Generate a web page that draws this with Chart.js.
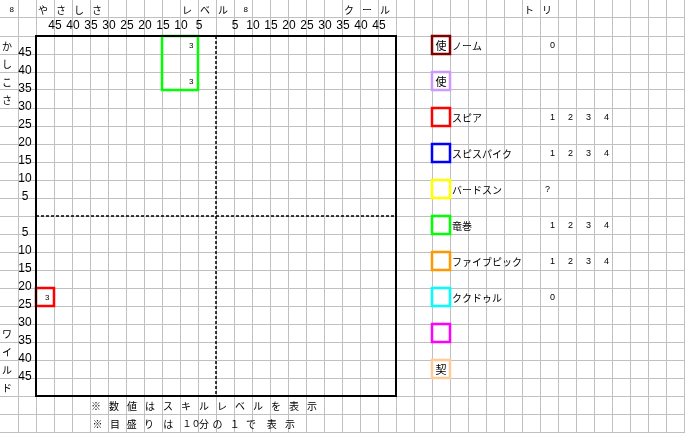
<!DOCTYPE html>
<html><head><meta charset="utf-8">
<script src="https://cdn.jsdelivr.net/npm/chart.js@4"></script>
<style>html,body{margin:0;padding:0;background:#fff}#wrap{width:685px;height:433px;position:relative}</style>
</head><body><div id="wrap"><canvas id="c"></canvas></div>
<script>
// ---------- data ----------
const xTickValues = [-45,-40,-35,-30,-25,-20,-15,-10,-5,5,10,15,20,25,30,35,40,45];
const yTickValues = [45,40,35,30,25,20,15,10,5,-5,-10,-15,-20,-25,-30,-35,-40,-45];
const axisMin = -50;
const axisMax = 50;

const boxSeries = ['竜巻', 'スピア'];
const boxXMin = [-15, -50];
const boxXMax = [-5, -45];
const boxYMin = [35, -25];
const boxYMax = [50, -20];

// level numbers written inside the boxes (cell with top-right corner at x,y)
const levelX = [-5, -5, -45];
const levelY = [50, 40, -20];
const levelText = ['3', '3', '3'];

const legendNames = ['ノーム', '', 'スピア', 'スピスパイク', 'バードスン', '竜巻', 'ファイブピック', 'ククドゥル', '', ''];
const legendMarks = ['使', '使', '', '', '', '', '', '', '', '契'];
const legendLevels = [['0'], [], ['1','2','3','4'], ['1','2','3','4'], ['?'], ['1','2','3','4'], ['1','2','3','4'], ['0'], [], []];

const headerLeft = ['や','さ','し','さ'];
const headerMid = ['レ','ベ','ル'];
const headerRight = ['ク','ー','ル'];
const headerTori = ['ト','リ'];
const sideTop = ['か','し','こ','さ'];
const sideBottom = ['ワ','イ','ル','ド'];
const sheetNumber = '8';
const noteRow1 = ['※','数','値','は','ス','キ','ル','レ','ベ','ル','を','表','示'];
const noteRow2 = ['※','目','盛','り','は','１０','分','の','１','で','表','示'];

// ---------- styles ----------
const legendColors = ['#800000','#CC99FF','#FF0000','#0000FF','#FFFF00','#00FF00','#FF9900','#00FFFF','#FF00FF','#FFCC99'];
const boxColors = ['#00FF00', '#FF0000'];
const cellStep = 5;                 // one sheet cell = 5 units
const pxPerUnit = 18 / cellStep;    // 18 px cells
const gridX0 = -60, gridY0 = 60;    // value at canvas left / top
const W = 685, H = 433;
const note2Offsets = [7.5, 7, 5.7, 5, 6.3, 11.5, 6, 1.5, 0.7, -1, 1.7, 2];

// ---------- datasets ----------
const datasets = [];
// plot frame
datasets.push({
  data: [{x:axisMin,y:axisMax},{x:axisMax,y:axisMax},{x:axisMax,y:axisMin},{x:axisMin,y:axisMin},{x:axisMin,y:axisMax},{x:axisMax,y:axisMax}],
  borderColor: '#000', borderWidth: 2, showLine: true, pointRadius: 0, borderJoinStyle: 'miter'
});
// dashed centre lines
datasets.push({ data: [{x:0,y:axisMax},{x:0,y:axisMin}], borderColor:'#000', borderWidth:1.5, borderDash:[3,2], showLine:true, pointRadius:0 });
datasets.push({ data: [{x:axisMin,y:0},{x:axisMax,y:0}], borderColor:'#000', borderWidth:1.5, borderDash:[3,2], showLine:true, pointRadius:0 });
// skill boxes
boxSeries.forEach((name, i) => {
  datasets.push({
    label: name,
    data: [{x:boxXMin[i],y:boxYMax[i]},{x:boxXMax[i],y:boxYMax[i]},{x:boxXMax[i],y:boxYMin[i]},{x:boxXMin[i],y:boxYMin[i]},{x:boxXMin[i],y:boxYMax[i]},{x:boxXMax[i],y:boxYMax[i]}],
    borderColor: boxColors[i], borderWidth: 2.5, showLine: true, pointRadius: 0, borderJoinStyle: 'miter'
  });
});

const JP = '"Noto Sans CJK JP", sans-serif';

const sheetText = {
  id: 'sheetText',
  afterDatasetsDraw(chart) {
    const {ctx} = chart;
    const x = chart.scales.x, y = chart.scales.y;
    const colL = c => x.getPixelForValue(gridX0 + c * cellStep);
    const rowT = r => y.getPixelForValue(gridY0 - r * cellStep);
    const rowC = r => (rowT(r) + rowT(r + 1)) / 2;
    ctx.save();
    ctx.fillStyle = '#000';
    ctx.textBaseline = 'middle';
    const jp = (t, c, r, size = 10, dx = 2) => {
      ctx.font = size + 'px ' + JP; ctx.textAlign = 'left';
      ctx.fillText(t, colL(c) + dx, rowC(r) + 1);
    };
    const numR = (t, c, r, size, dx) => {
      ctx.font = size + 'px "Liberation Sans"'; ctx.textAlign = 'right';
      ctx.fillText(t, colL(c + 1) - dx, rowC(r) + 0.5);
    };
    // header row
    numR(sheetNumber, 0, 0, 8, 4);
    headerLeft.forEach((t, i) => jp(t, 2 + i, 0));
    headerMid.forEach((t, i) => jp(t, 10 + i, 0));
    numR(sheetNumber, 13, 0, 8, 4);
    headerRight.forEach((t, i) => jp(t, 19 + i, 0));
    headerTori.forEach((t, i) => jp(t, 29 + i, 0));
    // side titles
    sideTop.forEach((t, i) => jp(t, 0, 2 + i));
    sideBottom.forEach((t, i) => jp(t, 0, 18 + i));
    // tick labels
    ctx.font = '12px "Liberation Sans Narrow", "Liberation Sans", sans-serif';
    ctx.textAlign = 'center';
    const xLabY = rowC(1) - 1;
    xTickValues.forEach(v => ctx.fillText(String(Math.abs(v)), x.getPixelForValue(v) + 1, xLabY));
    const yLabX = (colL(1) + colL(2)) / 2 - 2;
    yTickValues.forEach(v => ctx.fillText(String(Math.abs(v)), yLabX, y.getPixelForValue(v) - 1));
    // level numbers inside boxes
    ctx.font = '8px "Liberation Sans"'; ctx.textAlign = 'right';
    levelText.forEach((t, i) => {
      const px = x.getPixelForValue(levelX[i]) - 4.5;
      const py = (y.getPixelForValue(levelY[i]) + y.getPixelForValue(levelY[i] - cellStep)) / 2 + 1;
      ctx.fillText(t, px, py);
    });
    // legend
    legendNames.forEach((name, i) => {
      const r = 2 + 2 * i;
      const x0 = colL(24), x1 = colL(25), y0 = rowT(r), y1 = rowT(r + 1);
      ctx.strokeStyle = legendColors[i]; ctx.lineWidth = 2.5;
      ctx.strokeRect(x0, y0, x1 - x0, y1 - y0);
      if (legendMarks[i]) {
        ctx.font = '11px ' + JP; ctx.textAlign = 'center';
        ctx.fillText(legendMarks[i], (x0 + x1) / 2, (y0 + y1) / 2 + 1);
      }
      if (name) jp(name, 25, r, 10, 2);
      legendLevels[i].forEach((t, k) => {
        if (t === '?') {
          ctx.font = '9px "Liberation Sans"'; ctx.textAlign = 'left';
          ctx.fillText(t, colL(30) + 5, rowC(r) + 0.5);
        } else numR(t, 30 + k, r, 9, 3);
      });
    });
    // notes
    noteRow1.forEach((t, i) => {
      ctx.font = '10px ' + JP; ctx.textAlign = 'center';
      ctx.fillText(t, colL(5 + i) + 6, rowC(22) + 1);
    });
    noteRow2.forEach((t, i) => {
      ctx.font = (t.length > 1 ? '9px ' : '10px ') + JP; ctx.textAlign = 'center';
      ctx.fillText(t, colL(5 + i) + note2Offsets[i], rowC(23) + 1);
    });
    ctx.restore();
  }
};

const gridColor = '#C0C0C0';
new Chart(document.getElementById('c'), {
  type: 'scatter',
  data: { datasets },
  options: {
    responsive: true, maintainAspectRatio: false, animation: false,
    layout: { padding: 0 },
    plugins: { legend: { display: false }, tooltip: { enabled: false } },
    events: [],
    scales: {
      x: {
        type: 'linear', min: gridX0, max: gridX0 + W / pxPerUnit,
        ticks: { display: false, stepSize: cellStep, includeBounds: false, maxTicksLimit: 200, autoSkip: false },
        grid: { color: c => (c.tick && c.tick.value <= gridX0 + 1e-6) ? 'rgba(0,0,0,0)' : gridColor, drawTicks: false, lineWidth: 1 },
        border: { display: false }
      },
      y: {
        type: 'linear', min: gridY0 - H / pxPerUnit, max: gridY0,
        ticks: { display: false, stepSize: cellStep, includeBounds: false, maxTicksLimit: 200, autoSkip: false },
        grid: { color: c => (c.tick && c.tick.value >= gridY0 - 1e-6) ? 'rgba(0,0,0,0)' : gridColor, drawTicks: false, lineWidth: 1 },
        border: { display: false }
      }
    }
  },
  plugins: [sheetText]
});
</script>
</body></html>
